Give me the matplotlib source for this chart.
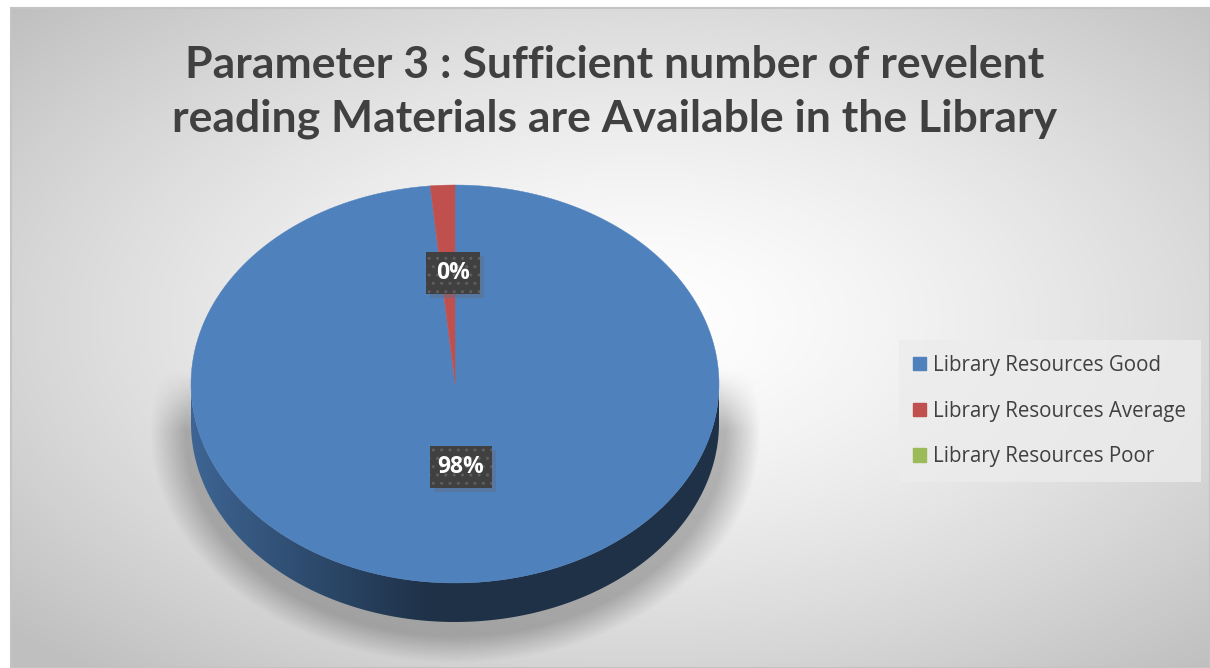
import numpy as np
import matplotlib
matplotlib.use("Agg")
import matplotlib.pyplot as plt
from matplotlib.patches import Polygon, Rectangle, Patch

# data
categories = ["Library Resources Good", "Library Resources Average", "Library Resources Poor"]
values = [98.5, 1.5, 0.0]
label_text = ["98%", "0%", ""]
colors = ["#4f81bd", "#c0504d", "#9bbb59"]
title = "Parameter 3 : Sufficient number of revelent\nreading Materials are Available in the Library"

W, H = 1210, 668
fig = plt.figure(figsize=(W / 100, H / 100), dpi=100)
ax = fig.add_axes([0, 0, 1, 1])
ax.set_xlim(0, W)
ax.set_ylim(H, 0)
ax.axis("off")

# chart area background (radial gradient)
x0, y0, x1, y1 = 11, 8, W, H
xs = np.arange(x0, x1)
ys = np.arange(y0, y1)
X, Y = np.meshgrid(xs, ys)
cxg, cyg = 640, 320
r = np.sqrt(((X - cxg) / ((x1 - x0) / 2)) ** 2 + ((Y - cyg) / ((y1 - y0) / 2)) ** 2) / np.sqrt(2)
v = (255 - 64 * np.clip(r, 0, 1) ** 1.4) / 255
bg = np.dstack([v, v, v])
ax.imshow(bg, extent=(x0, x1, y1, y0), zorder=0, interpolation="bilinear")
ax.add_patch(Rectangle((x0, y0), x1 - x0, y1 - y0, fill=False, ec="#c4c4c4", lw=1.5, zorder=1))

# pie geometry (pixels)
cx, cy, rx, ry, thick = 455, 384, 264, 199, 39

# shadow
d_r = np.sqrt(((X - cx) / (rx + 6)) ** 2 + ((Y - (cy + thick + 8)) / (ry + 6)) ** 2)
dist = (d_r - 1) * ry
sh = np.clip(1 - dist / 26, 0, 1) * np.clip((Y - 370) / 60, 0, 1)
shadow = np.zeros((len(ys), len(xs), 4))
shadow[..., :3] = 0.35
shadow[..., 3] = 0.42 * sh
ax.imshow(shadow, extent=(x0, x1, y1, y0), zorder=2, interpolation="bilinear")


def arc(t1, t2, dy=0, n=200):
    t = np.radians(np.linspace(t1, t2, n))
    return np.column_stack([cx + rx * np.cos(t), cy + dy - ry * np.sin(t)])


total = sum(values)
start = 90.0
wedges = []
for val, col in zip(values, colors):
    span = 360.0 * val / total
    t1, t2 = start - span, start
    wedges.append((t1, t2, col))
    start = t1

# side faces (front half only: angles 180..360)
side_grad = np.linspace(0, 1, 400)
for t1, t2, col in wedges:
    if t2 - t1 <= 0:
        continue
    for k in (-360, 0, 360):
        a = max(t1 + k, 180)
        b = min(t2 + k, 360)
        if b > a:
            top = arc(a, b)
            bot = arc(b, a, dy=thick)
            poly = Polygon(np.vstack([top, bot]), closed=True, fc="none", ec="none", zorder=3)
            ax.add_patch(poly)
            base = np.array(matplotlib.colors.to_rgb(col))
            g = np.clip(side_grad / 0.45, 0, 1)
            light = base * 0.78
            dark = base * 0.38
            row = light[None, :] * (1 - g[:, None]) + dark[None, :] * g[:, None]
            img = np.tile(row[None, :, :], (10, 1, 1))
            im = ax.imshow(img, extent=(cx - rx, cx + rx, cy + ry + thick, cy), zorder=3,
                           interpolation="bilinear", aspect="auto")
            im.set_clip_path(poly)

# top faces
for t1, t2, col in wedges:
    if t2 - t1 <= 0:
        continue
    pts = np.vstack([[cx, cy], arc(t1, t2)])
    ax.add_patch(Polygon(pts, closed=True, fc=col, ec=col, lw=0.3, zorder=4))

# data labels
label_pos = [(461, 467), (453, 273)]
for (lx, ly), txt in zip(label_pos, label_text):
    w = 62 if len(txt) > 2 else 54
    ax.add_patch(Rectangle((lx - w / 2 + 4, ly - 17), w, 42, fc="#5d6f86", ec="none", alpha=0.5, zorder=5))
    ax.add_patch(Rectangle((lx - w / 2, ly - 21), w, 42, fc="#404040", ec="#5e5e5e", lw=0,
                           hatch="..", zorder=5.5))
    ax.text(lx, ly, txt, ha="center", va="center", color="white", fontsize=16.5,
            fontweight="bold", family="Open Sans", zorder=6)

# title
fig.text(0.508, 1 - 92 / H, title, ha="center", va="center", fontsize=32, fontweight="bold",
         color="#404040", family="Lato", linespacing=1.4)

# legend
handles = [Patch(fc=c, ec=c) for c in colors]
leg = fig.legend(handles, categories, loc="center left", bbox_to_anchor=(899 / W, 1 - 411 / H),
                 frameon=True, handlelength=0.62, handleheight=0.62,
                 handletextpad=0.35, labelspacing=1.2, borderpad=0.7, borderaxespad=0,
                 fancybox=False, prop={"family": "Open Sans", "size": 14.8})
leg.get_frame().set_facecolor("#ececec")
leg.get_frame().set_edgecolor("none")
leg.get_frame().set_alpha(0.8)
for t in leg.get_texts():
    t.set_color("#404040")

fig.savefig("out.png", dpi=100)
